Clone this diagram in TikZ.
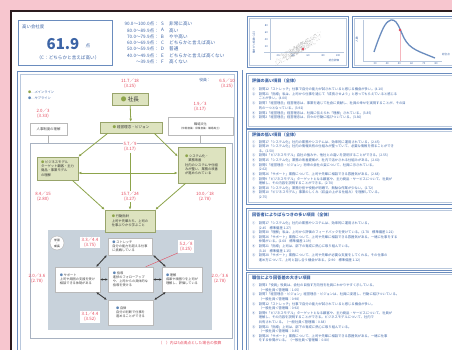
\documentclass[tikz,border=0pt]{standalone}
\usepackage{fontspec}
\setmainfont{Noto Sans CJK JP}
\usetikzlibrary{arrows.meta,shadows}

\definecolor{pinkbg}{HTML}{F7C6CF}
\definecolor{pagedark}{HTML}{2B1B1E}
\definecolor{hdblue}{HTML}{3C64A6}
\definecolor{frameblue}{HTML}{6A8CBE}
\definecolor{framelight}{HTML}{B9C8DD}
\definecolor{scorered}{HTML}{E5485C}
\definecolor{mainfill}{HTML}{DDE3BF}
\definecolor{mainedge}{HTML}{98A46B}
\definecolor{mainline}{HTML}{8DA44B}
\definecolor{subarea}{HTML}{C8D2DB}
\definecolor{subdot}{HTML}{5E86B6}
\definecolor{arrowdark}{HTML}{3B3B3B}

\newcommand{\mainmark}{\textcolor{mainline}{●}}
\newcommand{\submark}{\textcolor{subdot}{●}}

\tikzset{
  tinytext/.style={font=\fontsize{3.2}{3.9}\selectfont, inner sep=0pt},
  scorelabel/.style={font=\fontsize{4.4}{4.9}\selectfont, text=scorered, align=center, inner sep=0.6pt},
  mainbox/.style={draw=mainedge, fill=mainfill, line width=0.6pt, align=left,
    font=\fontsize{3.3}{4.3}\selectfont, text=black!80, inner sep=1.5pt,
    drop shadow={shadow xshift=0.7pt, shadow yshift=-0.7pt, opacity=0.35}},
  whitebox/.style={draw=gray!55, fill=white, line width=0.5pt, align=left,
    font=\fontsize{3.2}{4.1}\selectfont, text=black!75, inner sep=1.5pt},
  mainarrow/.style={draw=mainline, line width=0.8pt, -{Latex[length=3pt,width=2.6pt]}},
  mainboth/.style={draw=mainline, line width=0.8pt, {Latex[length=3pt,width=2.6pt]}-{Latex[length=3pt,width=2.6pt]}},
  subarrow/.style={draw=arrowdark, line width=0.9pt, {Latex[length=2.4pt,width=2.4pt]}-{Latex[length=2.4pt,width=2.4pt]}},
  panel/.style={draw=frameblue, line width=0.8pt},
  paneltitle/.style={font=\bfseries\fontsize{4.2}{5}\selectfont, text=hdblue, anchor=west, inner sep=0pt},
  itemline/.style={font=\fontsize{3.3}{4}\selectfont, text=hdblue, anchor=west, inner sep=0pt},
  legendline/.style={font=\fontsize{4.6}{5}\selectfont, text=hdblue, inner sep=0pt},
}

\begin{document}
\begin{tikzpicture}[x=1pt, y=-1pt]
  \useasboundingbox (0,0) rectangle (452,350);
  \clip (0,0) rectangle (452,350);

  % the page on its pink ground
  \fill[pinkbg] (0,0) rectangle (452,350);
  \fill[white] (10,10) rectangle (460,360);
  \draw[pagedark, line width=2pt] (11,360) -- (11,11) -- (460,11);

  % score box at the top left
  \draw[frameblue, line width=0.8pt] (18,20) rectangle (112,65);
  \node[legendline, anchor=west, font=\fontsize{4.4}{5}\selectfont] (scorename) at (22,27) {高い会社度};
  \node[font=\bfseries\fontsize{15}{15}\selectfont, text=hdblue, inner sep=0pt] (scorevalue) at (63,44.5) {61.9};
  \node[legendline] (scoreunit) at (88,46) {点};
  \node[legendline] (scorerank) at (68,57.5) {（C：どちらかと言えば高い）};

  % rank legend
  \foreach \range/\grade/\desc [count=\i] in {90.0～100.0点/S/非常に高い,
      80.0～89.9点/A/高い, 70.0～79.9点/B/やや高い, 60.0～69.9点/C/どちらかと言えば高い,
      50.0～59.9点/D/普通, 40.0～49.9点/E/どちらかと言えば高くない, ～39.9点/F/高くない} {
    \node[legendline, anchor=east] (rng\i) at (159,{24+(\i-1)*6.3}) {\range：};
    \node[legendline] (grd\i) at (162.5,{24+(\i-1)*6.3}) {\grade};
    \node[legendline, anchor=west] (dsc\i) at (169,{24+(\i-1)*6.3}) {\desc};
  }

  % scatter chart
  \draw[panel] (247,16) rectangle (348,67);
  \draw[framelight, line width=0.5pt] (249,18) rectangle (346,65);
  \draw[framelight, line width=0.6pt] (270,19) -- (270,60);
  \draw[framelight, line width=0.6pt] (264,52) -- (344,52);
  \pgfmathsetseed{42}
  \foreach \k in {1,...,450} {
    \pgfmathsetmacro{\u}{rand+rand}
    \pgfmathsetmacro{\v}{rand}
    \fill[gray!70, opacity=0.45] ({298+12*\u},{49-7*\u+5*\v}) circle (0.4pt);
  }
  \fill[scorered] (303,49) circle (1.4pt);
  \foreach \t [count=\i] in {80,60,40,20}
    \node[tinytext, text=hdblue, anchor=east, font=\fontsize{2.6}{3}\selectfont] (sy\i) at (268,{26+(\i-1)*7}) {\t};
  \foreach \t [count=\i] in {20,40,60,80,100}
    \node[tinytext, text=hdblue, font=\fontsize{2.6}{3}\selectfont] (sx\i) at ({278+(\i-1)*15},56) {\t};
  \node[tinytext, text=hdblue, rotate=90, font=\fontsize{2.6}{3}\selectfont] (sylab) at (254,42) {働きがい指数（点）};
  \node[tinytext, text=hdblue, font=\fontsize{2.6}{3}\selectfont] (sxlab) at (334,61) {総合評価};

  % distribution curve
  \draw[panel] (352,16) rectangle (470,67);
  \draw[framelight, line width=0.5pt] (354,18) rectangle (470,65);
  \draw[framelight, line width=0.6pt] (363,20) -- (363,61) -- (442,61);
  \draw[scorered!40, line width=0.8pt] (400,30) -- (400,61);
  \draw[frameblue, line width=1.3pt] plot[smooth, tension=0.6] coordinates
    {(374,52) (379,38) (385,25) (391,20) (396,22) (400,29) (404,38) (409,45) (416,50) (425,54) (435,58)};
  \fill[scorered] (400,30) circle (1.4pt);
  \foreach \t [count=\i] in {30,40,50,60,70,80}
    \node[tinytext, text=hdblue, font=\fontsize{2.6}{3}\selectfont] (cx\i) at ({375+(\i-1)*12.2},64) {\t};
  \node[tinytext, text=hdblue, rotate=90, font=\fontsize{2.6}{3}\selectfont] (cylab) at (357,40) {人数};
  \node[tinytext, text=hdblue, font=\fontsize{2.6}{3}\selectfont] (cxlab) at (446,55) {総合点};

  % left column frame
  \draw[frameblue, line width=0.8pt] (17,71) rectangle (237,360);
  \draw[framelight, line width=0.5pt] (20,74) rectangle (234,360);
  \coordinate (innerNW) at (30,143);
  \coordinate (innerSE) at (232,338);
  \coordinate (midrow) at (0,173);
  \draw[framelight!70!gray, line width=0.6pt] (innerNW) rectangle (innerSE);
  \fill[subarea] (48,230) rectangle (212,330);

  % legend of the lines
  \node[tinytext, anchor=west, text=hdblue] (legmain) at (28,92) {\mainmark …メインライン};
  \node[tinytext, anchor=west, text=hdblue] (legsub) at (28,98) {\submark …サブライン};

  % main line boxes
  \node[mainbox, font=\fontsize{5.6}{6}\selectfont, minimum width=36pt, minimum height=12pt] (shacho) at (130,99) {\mainmark\ 社長};
  \node[mainbox, font=\fontsize{3.6}{4}\selectfont, minimum width=62pt, minimum height=11pt] (rinen) at (131,127.5) {\mainmark\ 経営理念・ビジョン};
  \node[whitebox, font=\fontsize{3.4}{4}\selectfont, minimum width=37pt, minimum height=12pt] (jinji) at (48.5,129) {人事制度の理解};
  \node[whitebox, align=center, minimum width=65pt, minimum height=18pt] (bunka) at (200.5,126)
    {職場文化\\{\fontsize{2.6}{3.4}\selectfont（仲間意識・帰属意識・職場風土）}};
  \node[mainbox, minimum width=41pt, minimum height=23pt] (model) at (57.5,168.5)
    {\mainmark\ ビジネスモデル\\ターゲット顧客・主力\\商品・事業モデル\\の理解};
  \node[mainbox, minimum width=47pt, minimum height=36pt] (system) at (201.5,165)
    {\mainmark\ システム化・\\　業務改善\\社内のシステムや仕組\\みが整い、業務の改善\\が進められている};
  \node[mainbox, minimum width=50pt, minimum height=22pt] (shishin) at (130,221)
    {\mainmark\ 行動指針\\上司や先輩たち、上司の\\仕事ぶりから学ぶこと};

  % sub line boxes
  \node[circle, draw=gray!60, fill=white, minimum size=14pt, inner sep=0pt, align=center,
    font=\fontsize{2.8}{3}\selectfont] (gakushu) at (57,243) {学習\\・\\成長};
  \node[whitebox, minimum width=44pt, minimum height=17pt] (stretch) at (130,246.5)
    {\submark\ ストレッチ\\自分の能力を超える仕事\\に挑戦している};
  \node[whitebox, minimum width=45pt, minimum height=25pt] (support) at (77.5,279.5)
    {\submark\ サポート\\上司や周囲の支援を受け\\相談できる体制がある};
  \node[whitebox, minimum width=45pt, minimum height=25pt] (shido) at (130.5,279.5)
    {\submark\ 指導\\進捗のフォローアップ\\や、上司からの具体的な\\指導を受ける};
  \node[whitebox, minimum width=40pt, minimum height=25pt] (hyoka) at (182,279.5)
    {\submark\ 理解\\成果や頑張りを上司が\\理解し、評価している};
  \node[whitebox, minimum width=45pt, minimum height=25pt] (jiritsu) at (130.5,312.5)
    {\submark\ 自律\\自分の判断で仕事を\\進めることができる};

  % scores
  \node[scorelabel] (sshacho) at (130,84) {11.7／18\\(3.25)};
  \node[tinytext, text=hdblue, font=\fontsize{3.8}{4}\selectfont] (yakuin) at (205,80) {役員：};
  \node[scorelabel] (syakuin) at (227,84) {6.5／10\\(3.25)};
  \node[scorelabel] (sjinji) at (43,113.5) {2.0／3\\(3.33)};
  \node[scorelabel] (sbunka) at (200,106.5) {1.9／3\\(3.17)};
  \node[scorelabel, fill=white] (srinen) at (130,147) {5.7／9\\(3.17)};
  \node[scorelabel] (smodel) at (43,196.5) {8.4／15\\(2.80)};
  \node[scorelabel, fill=white] (scenter) at (130,196.5) {15.7／24\\(3.27)};
  \node[scorelabel] (ssystem) at (205,196.5) {10.0／18\\(2.78)};
  \node[scorelabel, fill=white, inner sep=1.2pt] (sstretch) at (90,242.5) {3.3／4.4\\(3.75)};
  \node[scorelabel, fill=white, inner sep=1.5pt] (sshido) at (186,246.5) {5.2／8\\(3.25)};
  \node[scorelabel] (ssupport) at (37,279) {2.0／3.6\\(2.78)};
  \node[scorelabel] (shyoka) at (220,279) {2.0／3.6\\(2.78)};
  \node[scorelabel, fill=white, inner sep=1.2pt] (sjiritsu) at (90,317) {3.1／4.4\\(3.52)};
  \node[tinytext, text=scorered, font=\fontsize{3.8}{4}\selectfont] (note) at (190,343) {（　）内は5点満点とした場合の換算};

  % main line connectors
  \draw[mainarrow] (shacho) -- (rinen);
  \draw[mainarrow] ([xshift=8pt]rinen.south west) -- (model.north east);
  \draw[mainarrow] ([xshift=-8pt]rinen.south east) -- (system.160);
  \draw[mainboth] (model.east |- midrow) -- (system.west |- midrow);
  \draw[mainline, line width=0.5pt] (srinen) -- (scenter);
  \draw[mainarrow] (scenter) -- (shishin);
  \draw[mainarrow] ([xshift=-6pt]model.south east) -- (shishin.north west);
  \draw[mainarrow] ([xshift=8pt]system.south west) -- (shishin.north east);
  \draw[gray!60, line width=0.5pt] (jinji.south) -- (jinji.south |- innerNW);
  \draw[gray!60, line width=0.5pt] (bunka.south) -- (bunka.south |- innerNW);

  % sub line connectors
  \draw[subarrow] ([xshift=-1pt]stretch.south west) -- ([xshift=-4pt]support.north east);
  \draw[subarrow] ([xshift=1pt]stretch.south east) -- ([xshift=4pt]hyoka.north west);
  \draw[subarrow] ([xshift=-4pt]support.south east) -- ([xshift=-1pt]jiritsu.north west);
  \draw[subarrow] ([xshift=4pt]hyoka.south west) -- ([xshift=1pt]jiritsu.north east);
  \draw[subarrow] (support.east) -- (shido.west);
  \draw[subarrow] (shido.east) -- (hyoka.west);
  \draw[scorered, line width=0.4pt] (sshido.south west) -- (shido.40);

  % right column panels
  \draw[frameblue, line width=0.6pt] (242,70) -- (242,360);
  \draw[panel] (246,73) rectangle (470,128);
  \draw[framelight, line width=0.5pt] (248,75) rectangle (470,126);
  \node[paneltitle] (hightitle) at (252,80.5) {評価の高い項目（全体）};
  \foreach \txt [count=\i] in {
      ①　設問12「ストレッチ」仕事で自分の能力が試されていると感じる機会が多い。(4.10),
      ②　設問21「指導」私は、上司から仕事を通じて「成長させよう」と思ってもらえていると感じる,
      　　ことが多い。(4.00),
      ③　設問7「経営理念」経営理念は、事業を通じて社会に貢献し、社員の幸せを実現することが、その目,
      　　的の一つとなっている。(3.92),
      ④　設問1「経営理念」経営理念は、社員に伝えられ「理解」されている。(3.85),
      ⑤　設問2「経営理念」経営理念は、日々の行動に結びついている。(3.80)}
    \node[itemline] (hi\i) at (252,{89+(\i-1)*4.8}) {\txt};

  \draw[panel] (246,129) rectangle (470,204);
  \draw[framelight, line width=0.5pt] (248,131) rectangle (470,202);
  \node[paneltitle] (lowtitle) at (252,135) {評価の低い項目（全体）};
  \foreach \txt [count=\i] in {
      ①　設問17「システム化」社内の業務やシステムは、効率的に運用されている。(2.45),
      ②　設問19「システム化」社内の情報共有の仕組みが整っていて、必要な情報を得ることができ,
      　　る。(2.50),
      ③　設問8「ビジネスモデル」自社の強みや、他社との違いを説明することができる。(2.55),
      ④　設問15「システム化」業務の改善提案が、社内で活かされる仕組みがある。(2.60),
      ⑤　設問5「経営理念・ビジョン」将来の会社の姿について、社員に示されている。,
      　　(2.62),
      ⑥　設問26「サポート」業務について、上司や先輩に相談できる雰囲気がある。(2.68),
      ⑦　設問9「ビジネスモデル」ターゲットとなる顧客や、主力商品・サービスについて、社員が,
      　　理解し、その内容を説明することができる。(2.70),
      ⑧　設問18「システム化」業務分担や役割が明確で、無駄な作業が少ない。(2.72),
      ⑨　設問10「ビジネスモデル」事業のしくみ（収益の上がる仕組み）を理解している。,
      　　(2.75)}
    \node[itemline] (lo\i) at (252,{142+(\i-1)*4.6}) {\txt};

  \draw[panel] (246,208) rectangle (470,270);
  \draw[framelight, line width=0.5pt] (248,210) rectangle (470,268);
  \node[paneltitle] (vartitle) at (252,215) {回答者によりばらつきの多い項目（全体）};
  \foreach \txt [count=\i] in {
      ①　設問17「システム化」社内の業務やシステムは、効率的に運用されている。,
      　　(2.45　標準偏差 1.27),
      ②　設問30「理解」私は、上司から評価のフィードバックを受けている。(2.78　標準偏差 1.21),
      ③　設問26「サポート」業務について、上司や先輩に相談できる雰囲気がある。一緒に仕事をする,
      　　仲間がいる。(2.68　標準偏差 1.19),
      ④　設問21「指導」上司は、部下の育成に熱心に取り組んでいる。,
      　　(3.10　標準偏差 1.15),
      ⑤　設問28「サポート」業務について、上司や先輩が必要な支援をしてくれる。その仕事の,
      　　進め方について、上司と話し合う機会がある。(2.90　標準偏差 1.12)}
    \node[itemline] (va\i) at (252,{223.5+(\i-1)*4.6}) {\txt};

  \draw[panel] (246,272) rectangle (470,360);
  \draw[framelight, line width=0.5pt] (248,274) rectangle (470,360);
  \node[paneltitle] (postitle) at (252,278) {職位により回答差の大きい項目};
  \foreach \txt [count=\i] in {
      ①　設問3「役員」役員は、会社の目指す方向性を社員にわかりやすく示している。,
      　　（一般社員＜管理職：1.05）,
      ②　設問7「経営理念・ビジョン」経営理念・ビジョンは、社員に浸透し、行動に結びついている。,
      　　（一般社員＜管理職：0.98）,
      ③　設問12「ストレッチ」仕事で自分の能力が試されていると感じる機会が多い。,
      　　（一般社員＜管理職：0.92）,
      ④　設問9「ビジネスモデル」ターゲットとなる顧客や、主力商品・サービスについて、社員が,
      　　理解し、その内容を説明することができる。ビジネスモデルについて、社内で,
      　　共有されている。（一般社員＜管理職：0.88）,
      ⑤　設問21「指導」上司は、部下の育成に熱心に取り組んでいる。,
      　　（一般社員＜管理職：0.85）,
      ⑥　設問26「サポート」業務について、上司や先輩に相談できる雰囲気がある。一緒に仕事,
      　　をする仲間がいる。（一般社員＜管理職：0.80）}
    \node[itemline] (po\i) at (252,{285.5+(\i-1)*4.6}) {\txt};
\end{tikzpicture}
\end{document}
